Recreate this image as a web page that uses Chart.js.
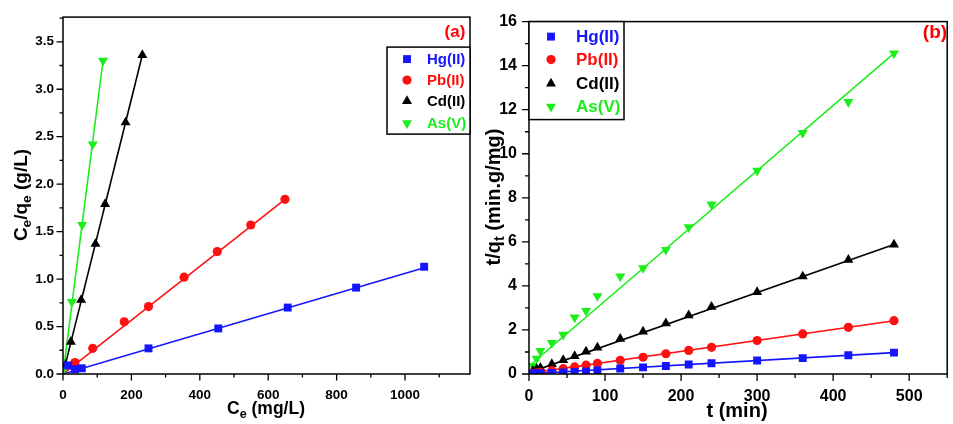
<!DOCTYPE html>
<html>
<head>
<meta charset="utf-8">
<script src="https://cdn.jsdelivr.net/npm/chart.js@4/dist/chart.umd.min.js"></script>
<style>
  body { margin: 0; background: #fff; }
  .box { position: absolute; top: 0; height: 424px; }
  #wa { left: 0; width: 478px; }
  #wb { left: 480px; width: 473px; }
</style>
</head>
<body>
<div class="box" id="wa"><canvas id="ca" width="478" height="424"></canvas></div>
<div class="box" id="wb"><canvas id="cb" width="473" height="424"></canvas></div>
<script>
// panel (a): Ce/qe vs Ce
const hgA_x = [15, 35, 55, 250, 454, 657, 857, 1056];
const hgA_y = [0.09, 0.05, 0.06, 0.27, 0.48, 0.70, 0.91, 1.13];
const pbA_x = [35, 87, 179, 250, 354, 451, 549, 649];
const pbA_y = [0.12, 0.27, 0.55, 0.71, 1.02, 1.29, 1.57, 1.84];
const cdA_x = [8, 23, 53, 95, 123, 183, 232];
const cdA_y = [0.10, 0.34, 0.78, 1.37, 1.79, 2.65, 3.36];
const asA_x = [3, 26, 56, 87, 117];
const asA_y = [0.06, 0.76, 1.57, 2.42, 3.30];
// fitted lines (a), end points
const hgA_fitX = [0, 1056], hgA_fitY = [0, 1.12];
const pbA_fitX = [0, 649],  pbA_fitY = [0, 1.84];
const cdA_fitX = [0, 232],  cdA_fitY = [0, 3.36];
const asA_fitX = [0, 117],  asA_fitY = [0, 3.30];
const ticksA_x = [0, 200, 400, 600, 800, 1000];
const ticksA_y = [0, 0.5, 1.0, 1.5, 2.0, 2.5, 3.0, 3.5];

// panel (b): t/qt vs t
const tB = [5, 10, 15, 30, 45, 60, 75, 90, 120, 150, 180, 210, 240, 300, 360, 420, 480];
const hgB = [0.02, 0.03, 0.04, 0.05, 0.07, 0.09, 0.12, 0.16, 0.25, 0.30, 0.36, 0.43, 0.49, 0.61, 0.72, 0.85, 0.97];
const pbB = [0.03, 0.05, 0.08, 0.15, 0.24, 0.32, 0.40, 0.48, 0.62, 0.76, 0.92, 1.07, 1.21, 1.52, 1.82, 2.12, 2.42];
const cdB = [0.15, 0.22, 0.28, 0.45, 0.63, 0.81, 1.02, 1.20, 1.60, 1.93, 2.30, 2.66, 3.05, 3.72, 4.43, 5.18, 5.88];
const asB = [0.37, 0.70, 1.05, 1.41, 1.79, 2.57, 2.87, 3.54, 4.43, 4.81, 5.64, 6.67, 7.70, 9.23, 10.95, 12.35, 14.56];
const hgB_fitX = [0, 480], hgB_fitY = [0.01, 0.97];
const pbB_fitX = [0, 480], pbB_fitY = [0.03, 2.42];
const cdB_fitX = [0, 480], cdB_fitY = [0.06, 5.88];
const asB_fitX = [2, 480], asB_fitY = [0.42, 14.56];
const ticksB_x = [0, 100, 200, 300, 400, 500];
const ticksB_y = [0, 2, 4, 6, 8, 10, 12, 14, 16];

const names = ['Hg(II)', 'Pb(II)', 'Cd(II)', 'As(V)'];
const colors = ['#1414ff', '#ff1010', '#000000', '#1cee1c'];
const styles = [
  { pointStyle: 'rect', radius: 5.6, rotation: 0 },
  { pointStyle: 'circle', radius: 4.6, rotation: 0 },
  { pointStyle: 'triangle', radius: 5.8, rotation: 0 },
  { pointStyle: 'triangle', radius: 5.8, rotation: 180 }
];
const FONT = '"Liberation Sans", Arial, sans-serif';

function zip(xs, ys) {
  return xs.map((x, i) => ({ x: x, y: ys[i] }));
}

function markerSet(i, xs, ys) {
  return {
    data: zip(xs, ys), showLine: false, order: 0,
    pointStyle: styles[i].pointStyle, pointRadius: styles[i].radius,
    pointRotation: styles[i].rotation,
    pointBackgroundColor: colors[i], pointBorderColor: colors[i], pointBorderWidth: 0
  };
}

function lineSet(i, xs, ys) {
  return {
    data: zip(xs, ys), showLine: true, order: 1, pointRadius: 0,
    borderColor: colors[i], borderWidth: 1.6
  };
}

// text with subscripts: parts = [[text, isSub], ...]
function drawRich(ctx, parts, cx, cy, size, rot) {
  ctx.save();
  ctx.translate(cx, cy);
  ctx.rotate(rot);
  ctx.textBaseline = 'middle';
  ctx.textAlign = 'left';
  ctx.fillStyle = '#000';
  let total = 0;
  const widths = parts.map(p => {
    ctx.font = 'bold ' + (p[1] ? size * 0.72 : size) + 'px ' + FONT;
    const w = ctx.measureText(p[0]).width;
    total += w;
    return w;
  });
  let x = -total / 2;
  parts.forEach((p, i) => {
    ctx.font = 'bold ' + (p[1] ? size * 0.72 : size) + 'px ' + FONT;
    ctx.fillText(p[0], x, p[1] ? size * 0.3 : 0);
    x += widths[i];
  });
  ctx.restore();
}

function framePlugin(cfg) {
  return {
    id: 'frame',
    afterDraw(chart) {
      const ctx = chart.ctx;
      const a = chart.chartArea;
      const xs = chart.scales.x, ys = chart.scales.y;
      ctx.save();
      ctx.strokeStyle = '#000';
      ctx.lineWidth = 1.5;
      ctx.strokeRect(a.left, a.top, a.right - a.left, a.bottom - a.top);
      // ticks, major and minor, outside
      ctx.lineWidth = 1.3;
      ctx.beginPath();
      for (let k = 0; k * cfg.xMinor <= xs.max + 1e-9; k++) {
        const px = xs.getPixelForValue(k * cfg.xMinor);
        const len = (k % 2 === 0) ? cfg.major : cfg.minor;
        ctx.moveTo(px, a.bottom);
        ctx.lineTo(px, a.bottom + len);
      }
      for (let k = 0; k * cfg.yMinor <= ys.max + 1e-9; k++) {
        const py = ys.getPixelForValue(k * cfg.yMinor);
        const len = (k % 2 === 0) ? cfg.major : cfg.minor;
        ctx.moveTo(a.left, py);
        ctx.lineTo(a.left - len, py);
      }
      ctx.stroke();

      // legend
      const lg = cfg.legend;
      const bx = lg.fromRight ? a.right - lg.w : a.left;
      const by = a.top + lg.dy;
      ctx.fillStyle = '#fff';
      ctx.fillRect(bx, by, lg.w, lg.h);
      ctx.lineWidth = 1.5;
      ctx.strokeStyle = '#000';
      ctx.strokeRect(bx, by, lg.w, lg.h);
      names.forEach((n, i) => {
        const yy = by + lg.rows[i];
        ctx.fillStyle = colors[i];
        ctx.strokeStyle = colors[i];
        Chart.helpers.drawPoint(ctx, {
          pointStyle: styles[i].pointStyle, radius: styles[i].radius,
          rotation: styles[i].rotation, borderWidth: 0
        }, bx + lg.mx, yy);
        ctx.font = 'bold ' + lg.font + 'px ' + FONT;
        ctx.textAlign = 'left';
        ctx.textBaseline = 'middle';
        ctx.fillText(n, bx + lg.tx, yy + 1);
      });

      // panel tag
      ctx.fillStyle = '#ff0000';
      ctx.font = 'bold ' + cfg.tag.size + 'px ' + FONT;
      ctx.textAlign = 'center';
      ctx.textBaseline = 'middle';
      ctx.fillText(cfg.tag.text, cfg.tag.x, cfg.tag.y);
      ctx.restore();

      drawRich(ctx, cfg.xTitle, cfg.xTitlePos[0], cfg.xTitlePos[1], cfg.xTitleSize, 0);
      drawRich(ctx, cfg.yTitle, cfg.yTitlePos[0], cfg.yTitlePos[1], cfg.yTitleSize, -Math.PI / 2);
    }
  };
}

function axes(xMax, xTicks, yMax, yTicks, fontSize, xPad, yPad, yW, yFmt) {
  const font = { family: FONT, size: fontSize, weight: 'bold' };
  return {
    x: {
      type: 'linear', min: 0, max: xMax,
      grid: { display: false, drawTicks: false }, border: { display: false },
      ticks: { font: font, color: '#000', padding: xPad, maxRotation: 0, autoSkip: false, callback: v => String(v) },
      afterBuildTicks(s) { s.ticks = xTicks.map(v => ({ value: v })); },
      afterFit(s) { s.height = 50; }
    },
    y: {
      type: 'linear', min: 0, max: yMax,
      grid: { display: false, drawTicks: false }, border: { display: false },
      ticks: { font: font, color: '#000', padding: yPad, autoSkip: false, callback: yFmt },
      afterBuildTicks(s) { s.ticks = yTicks.map(v => ({ value: v })); },
      afterFit(s) { s.width = yW; }
    }
  };
}

const common = {
  responsive: false, animation: false,
  plugins: { legend: { display: false }, tooltip: { enabled: false } }
};

new Chart(document.getElementById('ca'), {
  type: 'scatter',
  data: {
    datasets: [
      markerSet(0, hgA_x, hgA_y), markerSet(1, pbA_x, pbA_y),
      markerSet(2, cdA_x, cdA_y), markerSet(3, asA_x, asA_y),
      lineSet(0, hgA_fitX, hgA_fitY), lineSet(1, pbA_fitX, pbA_fitY),
      lineSet(2, cdA_fitX, cdA_fitY), lineSet(3, asA_fitX, asA_fitY)
    ]
  },
  options: Object.assign({}, common, {
    layout: { padding: { top: 16, right: 8, bottom: 0, left: 0 } },
    scales: axes(1190, ticksA_x, 3.76, ticksA_y, 13.5, 13, 9, 63, v => v.toFixed(1))
  }),
  plugins: [framePlugin({
    xMinor: 100, yMinor: 0.25, major: 6.5, minor: 3.5,
    legend: { fromRight: true, w: 83, h: 87, dy: 30, mx: 20, tx: 40, font: 15, rows: [12, 33, 54, 76] },
    tag: { text: '(a)', x: 455, y: 32, size: 17 },
    xTitleSize: 17.5, yTitleSize: 19,
    xTitle: [['C', 0], ['e', 1], [' (mg/L)', 0]], xTitlePos: [266, 409],
    yTitle: [['C', 0], ['e', 1], ['/q', 0], ['e', 1], [' (g/L)', 0]], yTitlePos: [22, 195]
  })]
});

new Chart(document.getElementById('cb'), {
  type: 'scatter',
  data: {
    datasets: [
      markerSet(0, tB, hgB), markerSet(1, tB, pbB),
      markerSet(2, tB, cdB), markerSet(3, tB, asB),
      lineSet(0, hgB_fitX, hgB_fitY), lineSet(1, pbB_fitX, pbB_fitY),
      lineSet(2, cdB_fitX, cdB_fitY), lineSet(3, asB_fitX, asB_fitY)
    ]
  },
  options: Object.assign({}, common, {
    layout: { padding: { top: 17, right: 2, bottom: 0, left: 0 } },
    scales: axes(550, ticksB_x, 16, ticksB_y, 16, 13, 12, 49, v => v)
  }),
  plugins: [framePlugin({
    xMinor: 50, yMinor: 1, major: 7, minor: 4,
    legend: { fromRight: false, w: 95, h: 98, dy: 0, mx: 22, tx: 47, font: 17, rows: [15, 38, 62, 85] },
    tag: { text: '(b)', x: 455, y: 33, size: 19 },
    xTitleSize: 20, yTitleSize: 20,
    xTitle: [['t (min)', 0]], xTitlePos: [257, 411],
    yTitle: [['t/q', 0], ['t', 1], [' (min.g/mg)', 0]], yTitlePos: [14, 197]
  })]
});
</script>
</body>
</html>
